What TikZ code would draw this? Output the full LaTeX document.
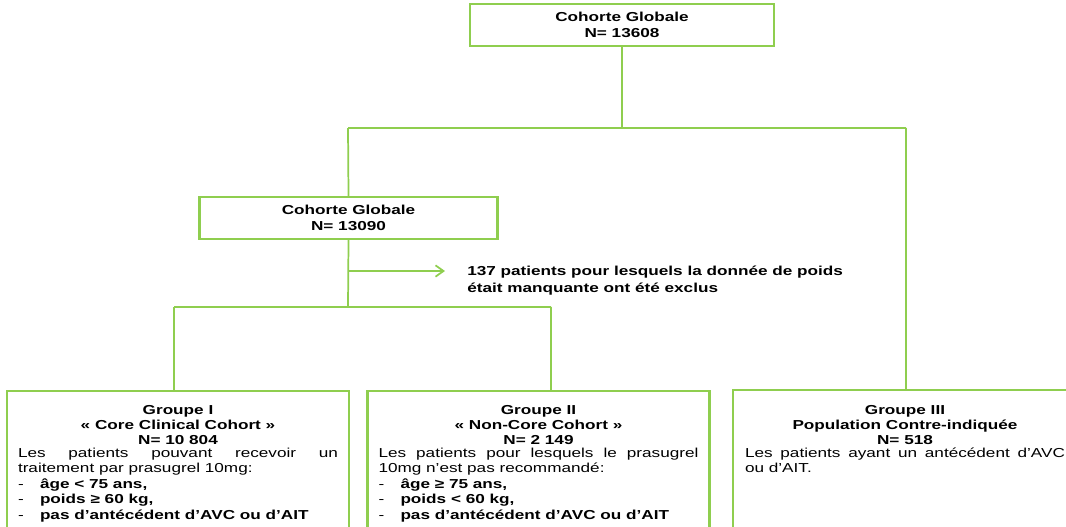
\documentclass[tikz,border=0pt]{standalone}
\usepackage{fontspec}
\setmainfont{Liberation Sans}[FakeStretch=1.32]
\usetikzlibrary{arrows.meta,calc}
\definecolor{lg}{RGB}{143,206,79}
\newcommand{\nohyph}{\hyphenpenalty10000\exhyphenpenalty10000\relax}
\newcommand{\grouphead}[3]{{\bfseries\centering\fontsize{9.75pt}{11.25pt}\selectfont
    #1\\#2\\#3\par}\vspace{-1.85pt}}
\newcommand{\critere}[1]{\makebox[16.5pt][l]{-}\textbf{#1}}
\tikzset{
    x=0.75pt, y=-0.75pt,
    cohort/.style = {rectangle,
                    draw=lg,
                    line width=1.7pt,
                    fill=white,
                    text=black,
                    inner sep=0pt,
                    align=center,
                    minimum height=31.5pt,
                    font=\bfseries\fontsize{9.75pt}{12pt}\selectfont},
    groupbox/.style = {rectangle,
                    draw=lg,
                    line width=1.7pt,
                    fill=white,
                    text=black,
                    anchor=north,
                    minimum width=256.5pt,
                    text width=240pt,
                    inner xsep=8.25pt,
                    inner ysep=10.5pt,
                    text depth=120pt,
                    align=justify,
                    font=\fontsize{9.75pt}{11.6pt}\selectfont\nohyph},
    frame/.style =  {draw=lg,
                    line width=1.7pt},
    note/.style =   {anchor=north west,
                    inner sep=0pt,
                    align=left,
                    font=\bfseries\fontsize{9.75pt}{12.75pt}\selectfont},
    link/.style =   {draw=lg,
                    line width=1.3pt},
    >={Straight Barb[length=6pt,width=8.5pt]}}
\begin{document}
\begin{tikzpicture}
    \useasboundingbox (0,0) rectangle (1066,526);
    \clip (0,0) rectangle (1066,526);
    \node[cohort,minimum width=228pt]   (G)  at (622,25)    {Cohorte Globale\\N= 13608};
    \node[cohort,minimum width=223.5pt] (G2) at (348.5,218) {Cohorte Globale\\N= 13090};
    \node[note] (excl) at (467,266) {137 patients pour lesquels la donnée de poids\\était manquante ont été exclus};
    \node[groupbox] (g1) at (178,390) {\grouphead{Groupe I}{« Core Clinical Cohort »}{N= 10 804}%
        Les patients pouvant recevoir un\linebreak traitement par prasugrel 10mg:\\
        \critere{âge < 75 ans,}\\
        \critere{poids ≥ 60 kg,}\\
        \critere{pas d’antécédent d’AVC ou d’AIT}};
    \node[groupbox] (g2) at (538.5,390) {\grouphead{Groupe II}{« Non-Core Cohort »}{N= 2 149}%
        Les patients pour lesquels le prasugrel\linebreak 10mg n’est pas recommandé:\\
        \critere{âge ≥ 75 ans,}\\
        \critere{poids < 60 kg,}\\
        \critere{pas d’antécédent d’AVC ou d’AIT}};
    \node[groupbox,draw=none] (g3) at (905,390) {\grouphead{Groupe III}{Population Contre-indiquée}{N= 518}%
        Les patients ayant un antécédent d’AVC\linebreak ou d’AIT.};
    \draw[frame] (g3.south west) -- (g3.north west) -- ($(g3.north east)+(20,0)$);
    \coordinate (split)  at (622,128);
    \coordinate (splitL) at (348,128);
    \coordinate (splitR) at (906,128);
    \coordinate (fork)   at (348,307);
    \coordinate (forkL)  at (174,307);
    \coordinate (forkR)  at (551,307);
    \coordinate (tap)    at (348,271);
    \coordinate (tip)    at (445,271);
    \path[link] (G.south) -- (split)
                (splitL) -- (splitR)
                (splitL) -- (G2.north)
                (splitR) -- (splitR |- g3.north)
                (G2.south) -- (fork)
                (forkL) -- (forkR)
                (forkL) -- (forkL |- g1.north)
                (forkR) -- (forkR |- g2.north);
    \draw[link,->] (tap) -- (tip);
\end{tikzpicture}
\end{document}
